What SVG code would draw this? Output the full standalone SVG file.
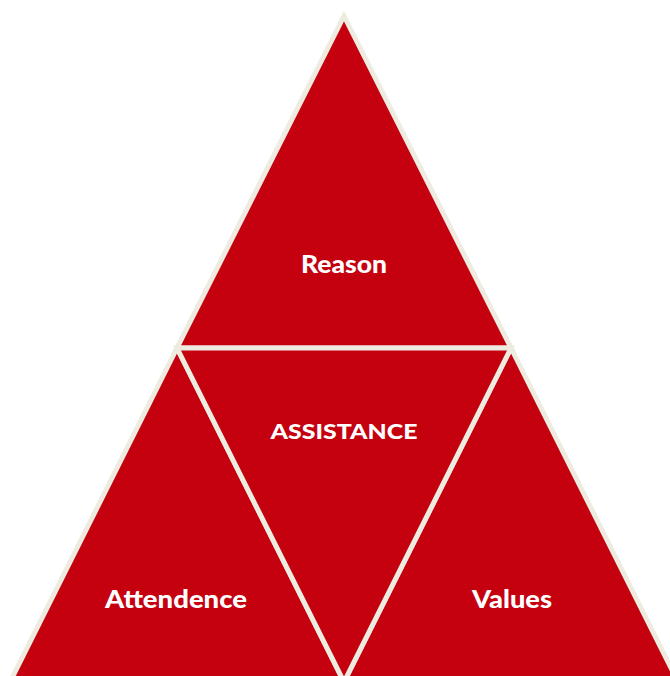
<svg xmlns="http://www.w3.org/2000/svg" width="670" height="676" viewBox="0 0 670 676">
  <style>
    .tri { fill: #c5000f; stroke: #eeebe0; stroke-width: 5; stroke-linejoin: miter; stroke-miterlimit: 10; }
    .lbl { fill: #ffffff; font-family: "Lato", "Open Sans", sans-serif; font-weight: 900; text-anchor: middle; }
  </style>
  <rect width="670" height="676" fill="#ffffff"/>
  <g id="reason">
    <polygon class="tri" points="344,16 511,348 177,348"/>
    <text class="lbl" x="344" y="273" font-size="25" textLength="86" lengthAdjust="spacingAndGlyphs">Reason</text>
  </g>
  <g id="attendence">
    <polygon class="tri" points="177,348 344,682 10,682"/>
    <text class="lbl" x="176" y="608" font-size="25" textLength="142" lengthAdjust="spacingAndGlyphs">Attendence</text>
  </g>
  <g id="values">
    <polygon class="tri" points="511,348 678,682 344,682"/>
    <text class="lbl" x="512" y="608" font-size="25" textLength="80" lengthAdjust="spacingAndGlyphs">Values</text>
  </g>
  <g id="assistance">
    <polygon class="tri" points="177,348 511,348 344,682"/>
    <text class="lbl" x="344" y="439" font-size="21" textLength="147" lengthAdjust="spacingAndGlyphs">ASSISTANCE</text>
  </g>
  <g id="connectors"></g>
</svg>
